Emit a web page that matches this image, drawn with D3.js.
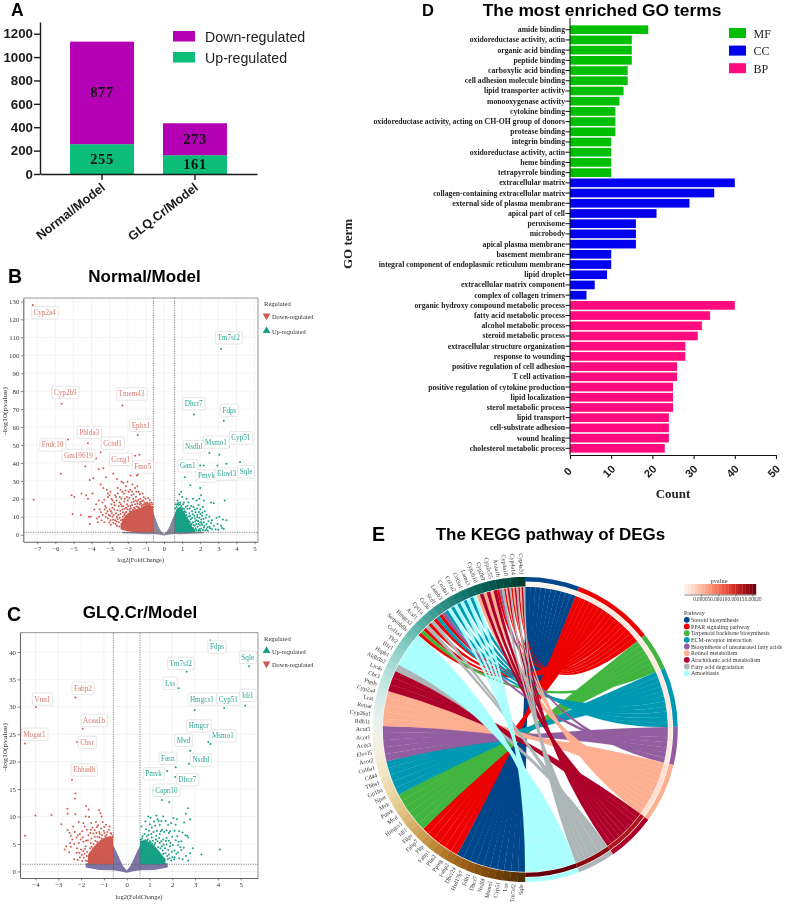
<!DOCTYPE html>
<html><head><meta charset="utf-8">
<script src="https://cdn.jsdelivr.net/npm/d3@7/dist/d3.min.js"></script>
<style>html,body{margin:0;padding:0;background:#fff}svg{display:block;filter:blur(.35px)}</style></head>
<body><svg id="c" width="787" height="904" xmlns="http://www.w3.org/2000/svg"></svg>
<script>
// ---------- Panel A ----------
const aCategories = ["Normal/Model","GLQ.Cr/Model"];
const aUp = [255,161];
const aDown = [877,273];
const aTicks = [0,200,400,600,800,1000,1200];
// ---------- Panel B ----------
const bDownLabeled = [["Cyp2a4",-7.25,128],["Cyp2b9",-5.65,73],["Tmem43",-2.3,72],["Fndc10",-5.3,53],["Phlda3",-4.2,51],["Gm19619",-3.75,42.5],["Ccnd1",-3.5,46],["Ccng1",-1.6,44],["Ephx1",-1.45,55.5],["Fmo5",-1.45,33.5]];
const bDownLabelPos = [[-6.59,123.7],[-5.45,79.3],[-1.79,78.4],[-6.15,50],[-4.13,57],[-4.73,44.2],[-2.84,51],[-2.39,42],[-1.27,61],[-1.18,37.7]];
const bUpLabeled = [["Tm7sf2",3.15,103.5],["Dhcr7",1.65,67],["Fdps",3.3,63.5],["Cyp51",3.6,49],["Msmo1",3.05,44.5],["Nsdhl",2.5,45.5],["Gan1",1.15,32],["Pmvk",2.0,38.5],["Elovl3",3.45,39.5],["Sqle",4.2,40.5]];
const bUpLabelPos = [[3.57,109.7],[1.64,73],[3.61,69.3],[4.24,54],[2.87,51.6],[1.64,49],[1.31,38.4],[2.34,32.7],[3.46,33.8],[4.53,35.1]];
const bDownPoints = [[-5.7,34],[-7.2,19.5],[-4.35,38],[-3.6,36.5],[-3.35,37],[-4.1,30.5],[-3.9,31.5],[-1.36,44.5],[-1.5,33],[-5.1,22],[-4.95,21],[-4.55,23],[-4.3,22],[-4.2,20],[-5.05,11.5],[-4.6,11],[-4.15,10],[-4.05,10],[-4.1,6],[-3.7,9],[-3.45,8],[-3.95,23],[-3.6,19],[-3.5,28],[-3.35,26],[-3.2,32],[-2.8,34],[-2.6,31],[-2.35,29.5],[-2.25,29],[-2.1,27],[-1.85,33],[-1.75,28],[-1.6,26],[-1.4,24],[-3.1,23],[-3,22],[-2.95,24],[-3.1,21],[-3.3,19.5],[-3.4,18],[-2.9,20],[-2.75,18],[-2.65,21],[-2.55,23],[-2.4,25],[-2.2,23],[-2.05,21],[-1.95,24],[-1.8,22],[-1.55,21],[-1.3,20],[-1.15,19],[-0.95,18],[-0.8,17.5],[-0.7,18],[-0.65,17],[-2.85,15],[-2.75,14],[-2.65,12],[-2.6,10],[-2.5,16],[-2.45,18],[-2.35,20],[-2.3,14],[-2.25,16],[-2.2,18.5],[-2.15,12],[-2.1,15],[-2.05,17],[-2,19],[-1.9,14],[-1.85,16],[-1.8,18],[-1.7,20],[-1.65,15],[-1.6,17],[-1.5,18.5],[-1.45,15.5],[-1.35,17],[-1.25,16],[-1.1,17],[-3,14],[-3.05,11],[-3.1,9],[-3.2,12],[-3.3,7],[-2.95,8],[-2.85,10],[-2.8,6.5],[-2.7,8],[-2.6,5],[-2.5,7],[-2.45,9.5],[-2.4,11.5],[-2.35,6],[-2.3,8.5],[-2.28,10],[-2.25,4.5],[-2.2,11],[-3.55,14],[-3.25,16],[-2.9,17],[-3.15,25],[-1.95,10],[-2.15,8],[-1.05,15.8],[-0.9,16.3],[-1.2,15],[-1.5,13.5],[-1.7,12],[-1.9,9.5],
[-2.72,16.4],[-2.58,13.6],[-2.52,11],[-2.42,13.2],[-2.33,15.8],[-2.27,12.4],[-2.18,14.4],[-2.12,10.3],[-2.08,12.7],[-2.02,14.2],[-1.98,16],[-1.92,11.6],[-1.88,13],[-1.83,14.8],[-1.76,16.6],[-1.72,13.9],[-1.68,18.4],[-1.62,14.6],[-1.58,19],[-1.52,15.7],[-1.47,17.2],[-1.42,19.4],[-1.38,15],[-1.32,18.2],[-1.27,17.3],[-1.22,18.6],[-1.17,16.5],[-1.12,15.6],[-1.07,18],[-1.02,17.1],[-0.98,16.4],[-0.92,17.4],[-0.87,16.8],[-0.82,15.9],[-0.76,16.7],[-0.71,15.7],[-0.63,15.4],
[-2.93,5.5],[-2.88,12],[-2.82,8.4],[-2.78,11],[-2.68,6],[-2.62,7.4],[-2.56,8.8],[-2.47,4.6],[-2.38,8],[-2.32,4],[-2.23,6.7],[-2.17,5],[-2.13,6.5],[-2.07,7.8],[-2.03,4.5],[-3.02,6.8],[-3.12,13],[-3.18,15],[-3.22,9.8],[-3.28,14],[-3.38,11],[-3.48,12.5],[-3.58,10],[-3.65,7],[-3.75,17],[-3.85,14],[-2.98,10.6],[-2.92,13],[-2.84,19],[-2.7,22],[-2.62,19],[-2.56,26],[-2.44,21],[-2.38,17],[-2.3,24],[-2.16,20],[-2.12,24.6],[-2.02,29.5],[-1.92,20.5],[-1.87,25],[-1.77,24],[-1.68,22.5],[-1.52,24],[-1.47,27],[-1.33,22.5],[-1.18,23],[-1.12,21],[-1.02,20],[-0.88,20.5],[-0.78,19.4]];
const bUpPoints = [[1.45,27.5],[2,26],[0.95,24],[0.85,22.5],[3.35,19],[2.2,38.5],[2.95,38.5],[1.25,20],[1.35,18],[1.6,20],[1.8,19],[1.95,20],[2.05,22],[2.2,19],[2.6,18],[2.75,17.5],[1,21],[0.75,19],[0.65,17],[1.1,18],[1.5,16],[1.9,16.5],[2,14],[2.15,15.5],[1.7,14],[1.55,13],[1.75,12.5],[1.85,11],[1.4,12],[1.3,14.5],[1.2,15.5],[1.05,17],[0.9,18],[2.35,11],[2.5,10],[2.65,8],[2.9,9.5],[3.05,10],[3.25,8.5],[3.45,8],[3.15,5],[2.95,6],[2.75,5],[2.6,6.5],[2.45,7.5],[2.35,6],[2.2,7],[2.1,5.5],[2,7],[1.9,6],[1.8,8],[1.7,9],[1.6,7],[1.55,9.5],[1.45,10.5],[1.35,8],[1.25,11],[2.05,3.5],[2.2,4],[2.35,3],[2.5,4.5],[2.65,3],[2.85,3],[3,2.8],[3.2,3.8],[3.3,3.2],[1.95,3],[1.85,4.5],[1.7,5],[1.6,3.8],[1.5,5.5],[2.1,10.5],[1.95,9.5],[1.2,12.5],[1.1,14.5],[0.95,16],[0.8,16.5],[0.7,15.5],[2.25,13],[2.05,8.5],
[1.28,9.4],[1.32,6.4],[1.38,10.2],[1.42,7.2],[1.48,8.6],[1.52,6.2],[1.58,11.4],[1.63,5.4],[1.67,10.6],[1.72,7.4],[1.78,6],[1.83,9.8],[1.88,7.6],[1.93,12.6],[1.98,5.2],[2.02,11.6],[2.08,6.6],[2.12,12.4],[2.18,8.8],[2.24,5],[2.3,9.4],[2.4,4.2],[2.55,3.6],[1.4,3.2],[1.5,4.2],[1.55,2.6],[1.65,2.8],[1.75,3.4],[1.8,2.6],[1.9,2.2],[2,2.2],[2.15,2.6],[2.28,2.4],[2.42,2.2],[1.22,8],[1.18,10.4],[1.15,13],[1.08,12.2],[1.02,14.6],[0.92,15.2],[0.88,17],[0.78,17.6],[0.72,16.8],[0.62,14.6],[1.3,16.2],[1.42,14.6],[1.62,15.4],[1.82,14.6]];
const bGrayBand = [[-2.3,.8,1.6],[-1.5,.5,1.6],[-.9,.3,1.7],[-.6,.4,12.5],[-.45,.3,8.5],[-.3,.1,4.5],[-.15,-.1,1.8],[0,-.4,.6],[.15,-.1,1.8],[.3,.1,4.5],[.45,.3,8.5],[.6,.4,11.5],[.9,.3,1.7],[1.5,.5,1.6],[2.2,.8,1.6]];
const bDownBand = [[-2.4,3,5.5],[-2.25,2.5,9],[-2.05,2,11.5],[-1.85,1.7,13],[-1.6,1.5,14],[-1.3,1.4,15],[-1,1.4,16],[-.8,1.4,16.5],[-.6,1.4,15.5]];
const bUpBand = [[.6,1.4,12],[.7,1.4,14.5],[.85,1.4,15.5],[1,1.4,14.5],[1.12,1.4,12.5],[1.25,1.4,10],[1.4,1.4,7],[1.55,1.4,4.5],[1.75,1.4,2.2]];
// ---------- Panel C ----------
const cDownLabeled = [["Fabp2",-2.25,31.7],["Vnn1",-3.98,29.9],["Acaa1b",-1.93,26],["Mogat1",-4.46,23.3],["Cbsr",-2.18,23.6],["Ehhadh",-2.4,16.7]];
const cDownLabelPos = [[-1.92,33.4],[-3.7,31.4],[-1.43,27.5],[-4.05,25],[-1.74,23.5],[-1.87,18.5]];
const cUpLabeled = [["Fdps",3.67,42.1],["Sqle",5.37,37.4],["Tm7sf2",2.63,36.4],["Lss",2.28,33.4],["Hmgcs1",2.98,29.4],["Cyp51",4.28,29.8],["Idi1",5.2,30.2],["Hmgcr",3.58,23.6],["Msmo1",3.68,23.2],["Mvd",2.78,22],["Nsdhl",2.73,19.6],["Fasn",2.15,19],["Pmvk",1.78,18.3],["Dhcr7",2.13,17.2],["Capn10",1.17,14.8]];
const cUpLabelPos = [[3.96,40.9],[5.31,39],[2.37,37.9],[1.9,34.3],[3.3,31.4],[4.46,31.4],[5.31,32.1],[3.16,26.5],[4.22,24.7],[2.49,23.9],[3.26,20.3],[1.8,20.6],[1.18,17.8],[2.66,16.7],[1.74,14.8]];
const cDownPoints = [[-2.25,14.2],[-2.27,13.3],[-2.6,11.4],[-2.59,10.5],[-4,10.2],[-3.29,10.3],[-1.78,11.9],[-1.67,11.3],[-1.21,11.2],[-2.87,8.6],[-4.46,6.5],[-2.59,7.5],[-2.5,7],[-2.25,10.4],[-1.8,10],[-1.65,9.9],[-1.15,10.6],[-1.1,10],[-2.1,9],[-1.9,8.8],[-1.35,9],[-1.25,8.4],[-1.05,9],[-0.9,8.5],[-0.75,8.2],[-2.45,6.5],[-2.2,6.2],[-2.05,6.8],[-1.95,7.3],[-1.75,7.6],[-1.6,7],[-1.5,8],[-1.4,7.5],[-1.2,7.2],[-1,7.4],[-0.85,7.2],[-0.7,7],[-2.65,4.6],[-2.45,4.5],[-2.3,5],[-2.2,3.4],[-2.1,5.2],[-2,4],[-1.9,5.4],[-1.85,3.2],[-1.8,4.6],[-1.7,5.7],[-1.65,2.6],[-1.6,4.2],[-1.55,6],[-1.5,3.6],[-1.45,5],[-1.4,6.3],[-1.3,5.4],[-1.2,6.2],[-1.1,6],[-1.05,5.2],[-0.95,6.4],[-0.8,6.2],[-0.65,6],[-1.95,1.9],[-1.8,2],[-1.75,2.8],[-2.3,2.2],[-2.05,2.6],[-1.6,1.7],[-1.5,2.2],[-1.4,3],[-1.35,4.4],[-1.25,3.6],
[-2.38,5.8],[-2.28,7.2],[-2.18,4.2],[-2.14,6.6],[-2.08,3.4],[-2.02,5.8],[-1.97,3],[-1.93,6.2],[-1.88,2.5],[-1.83,4.1],[-1.78,5.6],[-1.73,3.6],[-1.68,6.6],[-1.62,3.3],[-1.58,5.2],[-1.53,4.5],[-1.47,6.9],[-1.43,4],[-1.38,5.6],[-1.33,7],[-1.28,6.3],[-1.22,5],[-1.18,6.8],[-1.13,5.6],[-1.08,6.6],[-1.02,5.8],[-0.97,7],[-0.92,6],[-0.88,6.7],[-0.82,5.8],[-0.78,7.6],[-0.72,6.3],[-0.67,6.8],[-0.62,6.4],[-1.72,1.9],[-1.42,1.8],[-2.15,2.1],[-1.9,3.7],[-1.85,8.2],[-1.55,8.8],[-1.3,8.1],[-1.12,7.8],[-0.98,8.1],[-1.58,7.6],[-2.35,8.2],[-2.48,5.2],[-2.72,4],[-2.52,3.5]];
const cUpPoints = [[1.38,13.8],[1.55,13],[1.87,12.6],[2.68,11.5],[2.6,10.5],[2.78,9.5],[0.95,10],[1.05,9.8],[1.3,10.2],[1.35,9.5],[1.6,10],[1.7,9.2],[2.05,9.7],[2.2,9.5],[2.15,8.5],[0.65,8.2],[0.85,7.7],[1.1,8],[1.25,8.3],[1.45,8.5],[1.55,7.6],[1.75,7.5],[1.9,7.3],[2.3,7.3],[2.58,6.6],[2.65,6.5],[0.7,6.4],[0.95,6.7],[1.1,6.2],[1.3,6.5],[1.45,6.8],[1.6,5.8],[1.75,6.1],[1.85,5.6],[2,6.3],[2.15,5.7],[2.25,4.8],[2.4,5.5],[4.08,4],[3.28,3.1],[2.78,3.3],[2.6,2.8],[2.4,3.9],[2.3,2.4],[2.25,3.5],[2.1,3.8],[2,2.6],[1.9,4.6],[1.85,3.1],[1.75,4.9],[1.65,2.3],[1.55,4.6],[1.45,5.2],[1.35,5.5],[1.25,5.2],[1.15,5.6],[1.05,5.3],[0.9,5.6],[0.75,5.5],[1.95,2],[2.1,2.6],[2.45,2.2],[2.7,2],[1.8,2.2],[1.7,3.3],[1.6,3.2],[1.5,2.4],[1.4,3.4],[1.3,4],[1.2,4.4],[2.9,4.2],[2.35,4.4],[1.85,7],[2.7,6.2],[2.5,4.3],
[0.62,5.8],[0.68,6],[0.72,5.2],[0.78,6.8],[0.82,5.7],[0.88,6.4],[0.93,5.8],[0.98,7.4],[1.02,5.5],[1.08,6.8],[1.12,5],[1.18,7.2],[1.22,4.9],[1.28,5.8],[1.33,7.4],[1.38,4.4],[1.42,6.1],[1.48,4.2],[1.52,5.5],[1.58,3.8],[1.62,4.9],[1.68,4.2],[1.72,5.6],[1.78,2.8],[1.82,3.9],[1.88,2.4],[1.92,5.2],[1.98,3.6],[2.03,4.8],[2.08,2.2],[2.18,3.2],[2.22,6.4],[2.28,5.4],[1.5,7.3],[1.65,7.2],[1.2,9.1],[1.02,8.6],[0.82,9.1],[1.4,9.2],[1.52,9.2],[1.82,8.5],[1.95,8.8],[2.45,7.1],[2.52,8.9],[2.1,7.4]];
const cGrayBand = [[-1.8,.7,1.5],[-1.2,.25,1.6],[-.6,.2,4.8],[-.45,.12,3.6],[-.3,.03,2.2],[-.15,-.1,.9],[0,-.25,.2],[.15,-.1,.9],[.3,.03,2.2],[.45,.12,3.6],[.6,.2,4.8],[1.2,.25,1.6],[1.8,.7,1.5]];
const cDownBand = [[-1.7,1.35,3],[-1.5,1.3,4.2],[-1.3,1.3,5.2],[-1.1,1.3,5.8],[-.9,1.3,6.3],[-.6,1.3,6.3]];
const cUpBand = [[.59,1.3,5.6],[.8,1.3,5.7],[1,1.3,5.3],[1.2,1.3,4.7],[1.4,1.3,3.8],[1.7,1.3,2.2]];
// ---------- Panel D ----------
const mfTerms = ["amide binding","oxidoreductase activity, actin","organic acid binding","peptide binding","carboxylic acid binding","cell adhesion molecule binding","lipid transporter activity","monooxygenase activity","cytokine binding","oxidoreductase activity, acting on CH-OH group of donors","protease binding","integrin binding","oxidoreductase activity, actin","heme binding","tetrapyrrole binding"];
const mfCounts = [19,15,15,15,14,14,13,12,11,11,11,10,10,10,10];
const ccTerms = ["extracellular matrix","collagen-containing extracellular matrix","external side of plasma membrane","apical part of cell","peroxisome","microbody","apical plasma membrane","basement membrane","integral component of endoplasmic reticulum membrane","lipid droplet","extracellular matrix component","complex of collagen trimers"];
const ccCounts = [40,35,29,21,16,16,16,10,10,9,6,4];
const bpTerms = ["organic hydroxy compound metabolic process","fatty acid metabolic process","alcohol metabolic process","steroid metabolic process","extracellular structure organization","response to wounding","positive regulation of cell adhesion","T cell activation","positive regulation of cytokine production","lipid localization","sterol metabolic process","lipid transport","cell-substrate adhesion","wound healing","cholesterol metabolic process"];
const bpCounts = [40,34,32,31,28,28,26,26,25,25,25,24,24,24,23];
const goGroups = ["MF","CC","BP"];
// ---------- Panel E ----------
const pathways = ["Steroid biosynthesis","PPAR signaling pathway","Terpenoid backbone biosynthesis","ECM-receptor interaction","Biosynthesis of unsaturated fatty acids","Retinol metabolism","Arachidonic acid metabolism","Fatty acid degradation","Amoebiasis"];
const pathwayP = [0.00000,0.00001,0.00001,0.00001,0.00001,0.00002,0.00017,0.00019,0.00021];
const geneTable = [
["Sqle",[0]],["Tm7sf2",[0]],["Lss",[0]],["Cyp51",[0]],["Msmo1",[0]],["Nsdhl",[0]],["Dhcr7",[0]],["Fdft1",[0]],["Hsd17b7",[0]],["Dhcr24",[0]],
["Fabp2",[1]],["Pparg",[1]],["Plin2",[1]],["Fabp1",[1]],["Pltp",[1]],["Fabp7",[1]],
["Fdps",[2]],["Idi1",[2]],["Hmgcs1",[2]],["Mvd",[2]],["Pmvk",[2]],["Mvk",[2]],
["Npnt",[3]],["Gp1ba",[3]],["Thbs1",[3]],["Cd44",[3]],["Col6a1",[3]],
["Acot2",[4]],["Elovl5",[4]],["Acot3",[4]],["Acot1",[4]],["Acot5",[4]],
["Rdh11",[5]],["Cyp26a1",[5]],["Retsat",[5]],["Lrat",[5]],["Cyp2a4",[5]],
["Ptgds",[6]],["Cbr3",[6]],["Ltc4s",[6]],
["Aldh3a2",[7]],
["Hspb1",[8]],["Il1r1",[8]],["Tlr2",[8]],["Col1a1",[8]],["Serpinb6b",[8]],
["Hmgcs2",[1,2]],["Acsl1",[1,7]],["Cpt1a",[1,7]],["Cd36",[1,3]],["Scd1",[1,4]],
["Lamb3",[3,8]],["Col4a1",[3,8]],["Col1a2",[3,8]],["Col3a1",[3,8]],["Lama3",[3,8]],
["Cyp2b10",[5,6]],["Cyp2b9",[5,6]],["Cyp2c55",[5,6]],["Acaa1b",[1,4,7]],
["Cyp4a10",[1,5,6,7]],["Cyp4a14",[1,5,6,7]],["Cyp4a31",[1,5,6,7]]];

const P = {
 sans:"'Liberation Sans',Arial,sans-serif", serif:"'Liberation Serif','Times New Roman',serif",
 red:"#cf5b50", teal:"#16a085", grayB:"#8a889c", grayC:"#7d74a3",
 mf:"#00bf00", cc:"#0000ee", bp:"#ff0a7f",
 path:["#00468B","#ED0000","#42B540","#0099B4","#925E9F","#FDAF91","#AD002A","#ADB6B6","#AAFFFF"]
};
const svg = d3.select("#c");
const txt = (g,x,y,s,o={})=>{const t=g.append("text").attr("x",x).attr("y",y).text(s)
  .attr("font-family",o.f||P.serif).attr("font-size",o.s||7).attr("fill",o.c||"#222");
  if(o.b)t.attr("font-weight","bold"); if(o.a)t.attr("text-anchor",o.a); if(o.t)t.attr("transform",o.t); if(o.tl)t.attr("textLength",o.tl).attr("lengthAdjust","spacingAndGlyphs"); return t;};
[["A",11,16,17.5],["B",8,283,19.5],["C",7,621,19.5],["D",422,15.5,16.5],["E",372,541,19.5]].forEach(d=>txt(svg,d[1],d[2],d[0],{f:P.sans,b:1,s:d[3],c:"#000"}));
txt(svg,144.5,282,"Normal/Model",{f:P.sans,b:1,s:17,c:"#000",a:"middle"});
txt(svg,140,618,"GLQ.Cr/Model",{f:P.sans,b:1,s:17,c:"#000",a:"middle"});
txt(svg,602,16,"The most enriched GO terms",{f:P.sans,b:1,s:17.4,c:"#000",a:"middle"});
txt(svg,550.5,540,"The KEGG pathway of DEGs",{f:P.sans,b:1,s:17,c:"#000",a:"middle"});

// ===== Panel A =====
(function(){
 const g=svg.append("g");
 const x=d3.scaleBand().domain(aCategories).range([40,257]).paddingInner(.312).paddingOuter(.323);
 const y=d3.scaleLinear().domain([0,1300]).range([174,22]);
 const rows=aCategories.map((c,i)=>({c,up:aUp[i],down:aDown[i]}));
 const st=d3.stack().keys(["up","down"])(rows);
 const col={up:"#0bbd78",down:"#b400b4"};
 st.forEach(s=>{
  g.append("g").selectAll("rect").data(s).join("rect").attr("x",d=>x(d.data.c)).attr("width",x.bandwidth())
   .attr("y",d=>y(d[1])).attr("height",d=>y(d[0])-y(d[1])).attr("fill",col[s.key]);
  g.append("g").selectAll("text").data(s).join("text").attr("x",d=>x(d.data.c)+x.bandwidth()/2).attr("y",d=>(y(d[0])+y(d[1]))/2+4.5)
   .attr("text-anchor","middle").attr("font-family",P.serif).attr("font-weight","bold").attr("font-size",14.5).attr("letter-spacing",.6).attr("fill","#111").text(d=>d.data[s.key]);
 });
 const ay=g.append("g").attr("transform","translate(40,0)").call(d3.axisLeft(y).tickValues(aTicks).tickSize(6).tickSizeOuter(0).tickFormat(d3.format("d")));
 const ax=g.append("g").attr("transform","translate(0,174)").call(d3.axisBottom(x).tickSize(6).tickSizeOuter(0));
 [ay,ax].forEach(a=>{a.selectAll("path,line").attr("stroke","#1a1a1a").attr("stroke-width",1.4);
   a.selectAll("text").attr("font-family",P.sans).attr("font-weight","bold").attr("font-size",13.3).attr("fill","#1a1a1a");});
 ay.selectAll("text").attr("x",-7);
 ax.selectAll("text").attr("font-size",12.6).attr("text-anchor","end").attr("dy",0).attr("y",0).attr("transform","translate(4,15) rotate(-38)");
 [["Down-regulated",col.down,31],["Up-regulated",col.up,52]].forEach(l=>{
  g.append("rect").attr("x",173).attr("y",l[2]).attr("width",22).attr("height",10.5).attr("fill",l[1]);
  txt(g,205,l[2]+10.5,l[0],{f:P.sans,s:14.2,c:"#222"});
 });
})();

// ===== Volcanoes =====
function volcano(o){
 const g=svg.append("g");
 const x=d3.scaleLinear().domain(o.xd).range([o.l,o.r]);
 const y=d3.scaleLinear().domain(o.yd).range([o.b,o.t]);
 g.append("rect").attr("x",o.l).attr("y",o.t).attr("width",o.r-o.l).attr("height",o.b-o.t).attr("fill","#fff");
 const gg=g.append("g").attr("stroke","#ececec").attr("stroke-width",.6);
 o.xt.forEach(v=>gg.append("line").attr("x1",x(v)).attr("x2",x(v)).attr("y1",o.t).attr("y2",o.b));
 o.yt.forEach(v=>gg.append("line").attr("y1",y(v)).attr("y2",y(v)).attr("x1",o.l).attr("x2",o.r));
 const area=d3.area().x(d=>x(d[0])).y0(d=>y(d[1])).y1(d=>y(d[2]));
 g.append("path").attr("d",area(o.grayBand)).attr("fill",o.gray);
 g.append("path").attr("d",area(o.downBand)).attr("fill",P.red);
 g.append("path").attr("d",area(o.upBand)).attr("fill",P.teal);
 const pts=(arr,c)=>g.append("g").selectAll("circle").data(arr).join("circle").attr("cx",d=>x(d[0])).attr("cy",d=>y(d[1])).attr("r",1).attr("fill",c);
 pts(o.downPts,P.red); pts(o.upPts,P.teal);
 pts(o.downLab.map(d=>d.slice(1)),P.red); pts(o.upLab.map(d=>d.slice(1)),P.teal);
 const dash=g.append("g").attr("stroke","#555").attr("stroke-width",.7).attr("stroke-dasharray","1.2 1.2");
 o.vth.forEach(v=>dash.append("line").attr("x1",x(v)).attr("x2",x(v)).attr("y1",o.t).attr("y2",o.b));
 dash.append("line").attr("y1",y(o.hth)).attr("y2",y(o.hth)).attr("x1",o.l).attr("x2",o.r);
 const lab=(names,pos,c,bc)=>names.forEach((n,i)=>{
   const cx=x(pos[i][0]),cy=y(pos[i][1]);
   const r=g.append("rect").attr("fill","#fff").attr("stroke",bc).attr("stroke-width",.7).attr("rx",1.5);
   const t=txt(g,cx,cy+2.4,n[0],{s:7.2,c,a:"middle"});
   const b=t.node().getBBox();
   r.attr("x",b.x-2).attr("y",cy-6.2).attr("width",b.width+4).attr("height",12.4);
 });
 lab(o.downLab,o.downPos,"#d5766c","#dcdcdc"); lab(o.upLab,o.upPos,"#2aa592","#dcdcdc");
 const fr=g.append("g");
 const ax=fr.append("g").attr("transform",`translate(0,${o.b})`).call(d3.axisBottom(x).tickValues(o.xt).tickSize(2.5).tickSizeOuter(0).tickFormat(d=>d<0?"\u2212"+(-d):d));
 const ay=fr.append("g").attr("transform",`translate(${o.l},0)`).call(d3.axisLeft(y).tickValues(o.yt).tickSize(2.5).tickSizeOuter(0));
 [ax,ay].forEach(a=>{a.selectAll("path").attr("stroke","#666").attr("stroke-width",1.1);a.selectAll("line").attr("stroke","#555").attr("stroke-width",.7);
  a.selectAll("text").attr("font-family",P.serif).attr("font-size",6.8).attr("fill","#333");});
 ax.selectAll("text").attr("y",4.5);ay.selectAll("text").attr("x",-4);
 g.append("path").attr("d",`M${o.l},${o.t}H${o.r}M${o.r},${o.t}V${o.b}`).attr("stroke","#888").attr("stroke-width",.9).attr("fill","none");
 txt(g,(o.l+o.r)/2+o.xtDx,o.xtY,"log2(FoldChange)",{s:6.4,c:"#333",a:"middle"});
 txt(g,0,0,"-log10(pvalue)",{s:7,c:"#333",a:"middle",t:`translate(7,${o.ytY}) rotate(-90)`,tl:48});
 txt(g,264,o.legY,"Regulated",{s:6.6,c:"#333"});
 o.leg.forEach((l,i)=>{
  const cy=o.legY+10+i*o.legStep;
  g.append("path").attr("transform",`translate(266.5,${cy}) rotate(${l[1]})`).attr("d",d3.symbol(d3.symbolTriangle,26)()).attr("fill",l[2]);
  txt(g,272,cy+3,l[0],{s:6.4,c:"#333"});
 });
}
volcano({l:23.3,r:258,t:298,b:541.7,xd:[-7.77,5.19],yd:[-3.9,131.9],
 xt:d3.range(-7,6),yt:d3.range(0,131,10),grayBand:bGrayBand,downBand:bDownBand,upBand:bUpBand,gray:P.grayB,
 downPts:bDownPoints,upPts:bUpPoints,downLab:bDownLabeled,upLab:bUpLabeled,downPos:bDownLabelPos,upPos:bUpLabelPos,
 vth:[-.585,.585],hth:1.3,xtDx:0,xtY:562,ytY:411,legY:305.7,legStep:15,
 leg:[["Down-regulated",180,P.red],["Up-regulated",0,P.teal]]});
volcano({l:20,r:258,t:632.7,b:878,xd:[-4.68,5.76],yd:[-1.2,43.5],
 xt:d3.range(-4,6),yt:[0,5,10,15,20,25,30,35,40],grayBand:cGrayBand,downBand:cDownBand,upBand:cUpBand,gray:P.grayC,
 downPts:cDownPoints,upPts:cUpPoints,downLab:cDownLabeled,upLab:cUpLabeled,downPos:cDownLabelPos,upPos:cUpLabelPos,
 vth:[-.585,.585],hth:1.3,xtDx:0,xtY:899,ytY:747,legY:640.7,legStep:13,
 leg:[["Up-regulated",0,P.teal],["Down-regulated",180,P.red]]});

// ===== Panel D =====
(function(){
 const g=svg.append("g");
 const rows=[...mfTerms.map((t,i)=>({t,v:mfCounts[i],k:"mf"})),...ccTerms.map((t,i)=>({t,v:ccCounts[i],k:"cc"})),...bpTerms.map((t,i)=>({t,v:bpCounts[i],k:"bp"}))];
 rows.forEach((r,i)=>r.i=i);
 const x=d3.scaleLinear().domain([0,50]).range([570,776]);
 const y=d3.scaleBand().domain(rows.map(r=>r.i)).range([24.6,453.4]).paddingInner(.15).paddingOuter(.075);
 g.selectAll("rect").data(rows).join("rect").attr("x",x(0)).attr("y",d=>y(d.i)).attr("width",d=>x(d.v)-x(0)).attr("height",y.bandwidth()).attr("fill",d=>P[d.k]);
 const ay=g.append("g").attr("transform","translate(570,0)").call(d3.axisLeft(y).tickSize(4.5).tickSizeOuter(0).tickFormat(i=>rows[i].t));
 ay.select("path").attr("d","M0,18V455");
 ay.selectAll("path,line").attr("stroke","#111").attr("stroke-width",1);
 ay.selectAll("text").attr("font-family",P.serif).attr("font-weight","bold").attr("font-size",7.7).attr("fill","#222").attr("x",-5);
 const ax=g.append("g").attr("transform","translate(0,455)").call(d3.axisBottom(x).tickValues([0,10,20,30,40,50]).tickSize(4).tickSizeOuter(0));
 ax.selectAll("path,line").attr("stroke","#111").attr("stroke-width",1.1);
 ax.selectAll("text").attr("font-family",P.sans).attr("font-weight","bold").attr("font-size",11).attr("fill","#222").attr("y",0).attr("dy",0)
   .attr("text-anchor","middle").attr("transform","translate(0,19) rotate(-45)");
 txt(g,673,498,"Count",{b:1,s:13,c:"#222",a:"middle"});
 txt(g,0,0,"GO term",{b:1,s:13,c:"#222",a:"middle",t:"translate(352,244) rotate(-90)"});
 goGroups.forEach((n,i)=>{
  g.append("rect").attr("x",729).attr("y",28+i*17.6).attr("width",17).attr("height",10).attr("fill",P[n.toLowerCase()]);
  txt(g,753.5,37.5+i*17.8,n,{s:12,c:"#222"});
 });
})();

// ===== Panel E =====
(function(){
 const cx=525.2,cy=729.5;
 const g=svg.append("g").attr("transform",`translate(${cx},${cy})`);
 const rad=d=>d*Math.PI/180;
 const leftStart=rad(180),leftStep=rad(180)/geneTable.length;
 const linkCount=pathways.map((_,p)=>geneTable.filter(d=>d[1].includes(p)).length);
 const total=d3.sum(linkCount), unit=rad(180)/total;
 let a0=0; const pStart=linkCount.map(c=>{const s=a0;a0+=c*unit;return s;});
 const used=pathways.map(()=>0);
 const links=[];
 geneTable.forEach((d,i)=>{
  const k=d[1].length;
  d[1].forEach((p,j)=>{
   const ls=leftStart+leftStep*i+leftStep*j/k;
   const rs=pStart[p]+used[p]*unit; used[p]++;
   links.push({p,g:i,source:{startAngle:rs,endAngle:rs+unit,radius:142.6},target:{startAngle:ls,endAngle:ls+leftStep/k,radius:142.3}});
  });
 });
 const ribbon=d3.ribbon();
 g.append("g").selectAll("path").data(links.slice().sort((a,b)=>a.p-b.p)).join("path").attr("d",ribbon)
   .attr("fill",d=>P.path[d.p]).attr("stroke",d=>P.path[d.p]).attr("stroke-width",.15);
 const arc=d3.arc();
 const reds=d3.scaleSequential(t=>d3.interpolateRgbBasis(["#fff5f0","#fdbcA0","#fb6a4a","#cb181d","#67000d"])(t)).domain([0,.00021]);
 pathways.forEach((p,i)=>{
  const s=pStart[i],e=s+linkCount[i]*unit;
  g.append("path").attr("d",arc({innerRadius:148,outerRadius:152.6,startAngle:s,endAngle:e})).attr("fill",P.path[i]);
  g.append("path").attr("d",arc({innerRadius:143.2,outerRadius:147.4,startAngle:s,endAngle:e})).attr("fill",reds(pathwayP[i]));
 });
 geneTable.forEach((d,i)=>{
  const s=leftStart+leftStep*i;
  g.append("path").attr("d",arc({innerRadius:143,outerRadius:152.6,startAngle:s,endAngle:s+leftStep+.002})).attr("fill",d3.interpolateBrBG(i/(geneTable.length-1)));
  const deg=(s+leftStep/2)*180/Math.PI-270;
  txt(g,-155,1.8,d[0],{s:5.9,c:"#333",a:"end",t:`rotate(${deg})`});
 });
 const L=svg.append("g");
 txt(L,719,582.5,"pvalue",{s:6.4,c:"#333",a:"middle"});
 const lx=d3.scaleLinear().domain([0,.00021]).range([684,756]);
 d3.range(0,.00021,.00001).forEach(v=>L.append("rect").attr("x",lx(v)).attr("y",584).attr("width",lx(.00001)-lx(0)+.2).attr("height",10.5).attr("fill",reds(v+.000005)));
 const ax=L.append("g").attr("transform","translate(0,594.5)").call(d3.axisBottom(lx).tickValues([.00005,.0001,.00015,.0002]).tickSize(2).tickSizeOuter(0).tickFormat(d3.format(".5f")));
 ax.selectAll("path,line").attr("stroke","#333").attr("stroke-width",.6);
 ax.selectAll("text").attr("font-family",P.serif).attr("font-size",5.2).attr("fill","#333").attr("y",3.2);
 txt(L,684,615,"Pathway",{s:6,c:"#333"});
 pathways.forEach((p,i)=>{
  L.append("circle").attr("cx",686.8).attr("cy",619.8+i*6.67).attr("r",2.9).attr("fill",P.path[i]);
  txt(L,691,622+i*6.67,p,{s:5.9,c:"#333"});
 });
})();
</script></body></html>
